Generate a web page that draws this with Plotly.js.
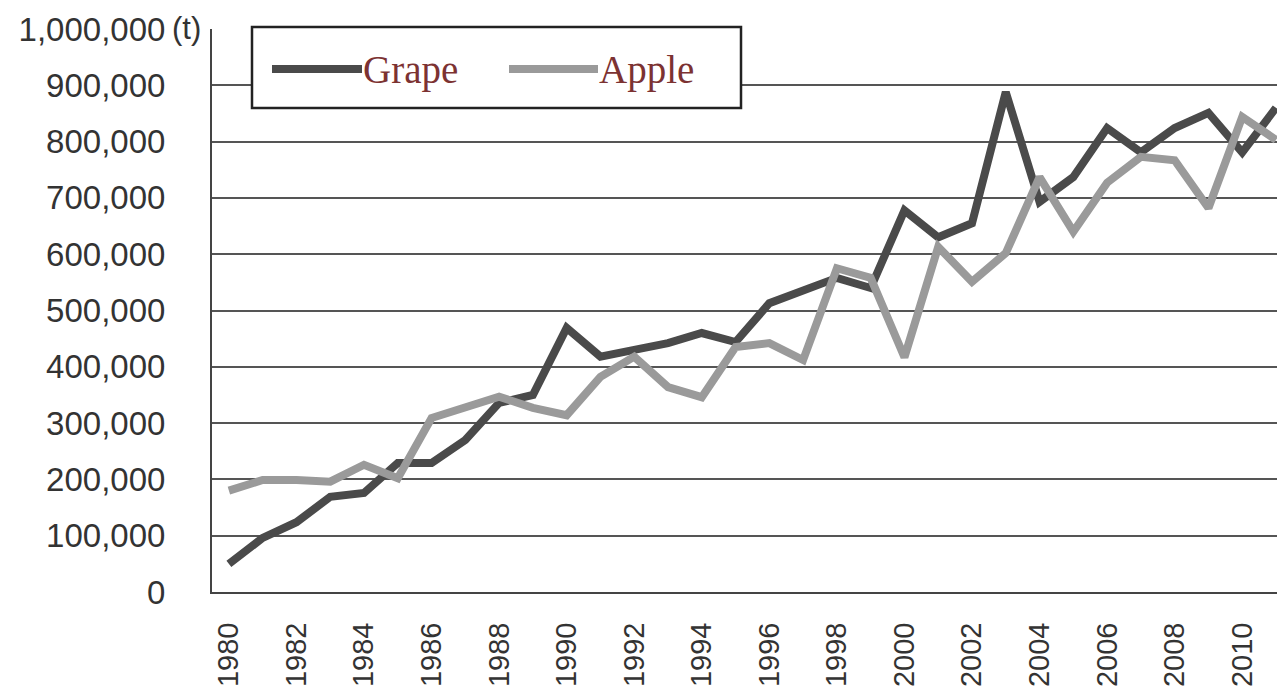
<!DOCTYPE html>
<html>
<head>
<meta charset="utf-8">
<script src="https://cdn.plot.ly/plotly-3.0.1.min.js"></script>
<style>html,body{margin:0;padding:0;background:#fff;}#chart{width:1277px;height:699px;}</style>
</head>
<body>
<div id="chart"></div>
<script>
const years = [1980,1981,1982,1983,1984,1985,1986,1987,1988,1989,1990,1991,1992,1993,1994,1995,1996,1997,1998,1999,2000,2001,2002,2003,2004,2005,2006,2007,2008,2009,2010,2011];
const grape = [50000,96000,124000,169000,176000,229000,229000,270000,336000,350000,469000,418000,430000,442000,460000,444000,513000,536000,558000,540000,678000,630000,655000,888000,693000,737000,824000,781000,824000,851000,781000,860000];
const apple = [180000,199000,199000,196000,226000,202000,309000,329000,347000,327000,314000,382000,418000,364000,346000,435000,442000,412000,575000,558000,417000,613000,551000,602000,737000,640000,727000,773000,767000,682000,844000,803000];
const yTickVals = [0,100000,200000,300000,400000,500000,600000,700000,800000,900000,1000000];
const yTickText = ["0","100,000","200,000","300,000","400,000","500,000","600,000","700,000","800,000","900,000","1,000,000"];
const xTickVals = [1980,1982,1984,1986,1988,1990,1992,1994,1996,1998,2000,2002,2004,2006,2008,2010];
const seriesNames = ["Grape","Apple"];
const unitLabel = "(t)";

const traces = [
  {x: years, y: grape, name: seriesNames[0], mode: 'lines', line: {color: '#4a4a4a', width: 8}},
  {x: years, y: apple, name: seriesNames[1], mode: 'lines', line: {color: '#9a9a9a', width: 8}}
];

const pw = 1065, ph = 563;
function px(x){ return (x-212)/pw; }
function py(y){ return (592-y)/ph; }

const layout = {
  width: 1277, height: 699,
  margin: {l: 212, r: 0, t: 29, b: 107},
  paper_bgcolor: '#fff', plot_bgcolor: '#fff',
  showlegend: false,
  font: {family: 'Liberation Sans, Arial, sans-serif', color: '#333'},
  xaxis: {
    range: [1979.5, 2011.03], tickvals: xTickVals, ticktext: xTickVals.map(String),
    tickangle: -90, tickfont: {size: 29, color: '#333'}, showgrid: false,
    showline: true, linecolor: '#444', linewidth: 2, zeroline: false, ticks: '', ticklabelstandoff: 17
  },
  yaxis: {
    range: [0, 1000000], tickvals: yTickVals, ticktext: yTickText,
    tickfont: {size: 33, color: '#333'}, showgrid: true, gridcolor: '#555', gridwidth: 2,
    showline: true, linecolor: '#444', linewidth: 2, zeroline: false, ticks: '', ticklabelstandoff: 38
  },
  shapes: [
    {type: 'rect', xref: 'paper', yref: 'paper', x0: px(252), x1: px(741), y0: py(108), y1: py(27), line: {color: '#222', width: 2.5}, fillcolor: '#fff', layer: 'above'},
    {type: 'line', xref: 'paper', yref: 'paper', x0: px(272), x1: px(362), y0: py(69), y1: py(69), line: {color: '#4a4a4a', width: 8}, layer: 'above'},
    {type: 'line', xref: 'paper', yref: 'paper', x0: px(509), x1: px(598), y0: py(69), y1: py(69), line: {color: '#9a9a9a', width: 8}, layer: 'above'}
  ],
  annotations: [
    {xref: 'paper', yref: 'paper', x: px(361), y: py(70), xanchor: 'left', yanchor: 'middle', text: seriesNames[0], showarrow: false, font: {family: 'Liberation Serif, DejaVu Serif, serif', size: 39, color: '#7c3232'}},
    {xref: 'paper', yref: 'paper', x: px(597), y: py(70), xanchor: 'left', yanchor: 'middle', text: seriesNames[1], showarrow: false, font: {family: 'Liberation Serif, DejaVu Serif, serif', size: 39, color: '#7c3232'}},
    {xref: 'paper', yref: 'paper', x: px(170), y: py(28), xanchor: 'left', yanchor: 'middle', text: unitLabel, showarrow: false, font: {size: 31, color: '#333'}}
  ]
};

Plotly.newPlot('chart', traces, layout, {displayModeBar: false, staticPlot: true});
</script>
</body>
</html>
